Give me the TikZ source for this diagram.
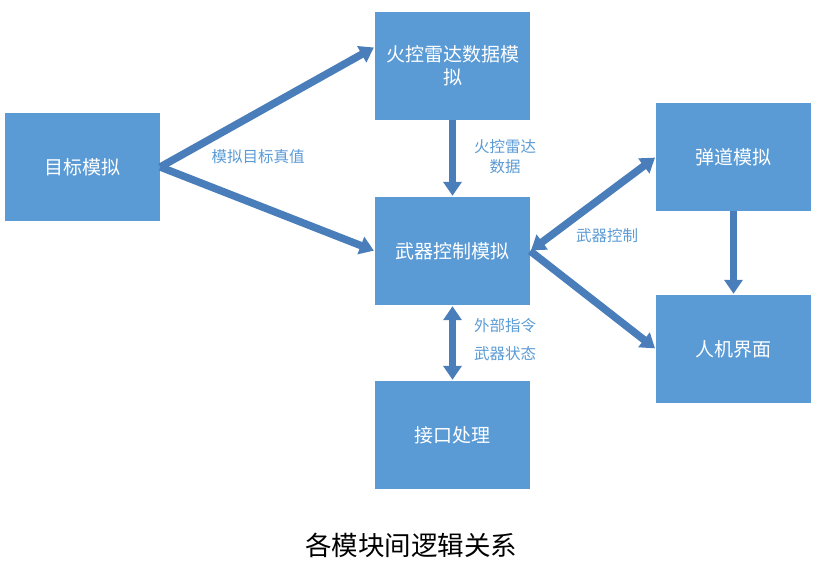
\documentclass[tikz,border=0pt]{standalone}
\usepackage{fontspec}
\newfontfamily\cjk{Noto Sans CJK SC}
\usetikzlibrary{arrows.meta}

\definecolor{boxblue}{RGB}{91,155,213}
\definecolor{arrowblue}{RGB}{74,126,187}

\begin{document}
\begin{tikzpicture}[
  x=1pt, y=-1pt,
  module/.style={
    fill=boxblue, text=white,
    minimum width=155pt, minimum height=108pt,
    inner sep=2pt, align=center,
    font=\cjk\fontsize{19}{23}\selectfont,
  },
  link/.style={
    draw=arrowblue, line width=7.5pt,
    -{Triangle[length=14pt,width=18pt]},
    shorten >=1pt,
  },
  both/.style={
    link, {Triangle[length=14pt,width=18pt]}-{Triangle[length=14pt,width=18pt]},
    shorten <=1pt,
  },
  note/.style={
    text=boxblue, align=center,
    font=\cjk\fontsize{15.5}{20}\selectfont,
  }]
  \useasboundingbox (0,0) rectangle (823,568);
  % modules
  \node[module] (target)  at (82.5,167) {目标模拟};
  \node[module] (radar)   at (452.5,66) {火控雷达数据模\\拟};
  \node[module] (weapon)  at (452.5,251) {武器控制模拟};
  \node[module] (port)    at (452.5,435) {接口处理};
  \node[module] (ballist) at (733.5,157) {弹道模拟};
  \node[module] (hmi)     at (733.5,349) {人机界面};
  % links
  \draw[link] (target.east) -- ([yshift=19pt]radar.west);
  \draw[link] (target.east) -- (weapon.west);
  \draw[link] (radar.south) -- (weapon.north);
  \draw[both] (weapon.east) -- (ballist.west);
  \draw[link] (weapon.east) -- (hmi.west);
  \draw[both] (weapon.south) -- (port.north);
  \draw[link] (ballist.south) -- (hmi.north);
  % labels
  \node[note] (truth) at (258,157) {模拟目标真值};
  \node[note] (rdata) at (505,157) {火控雷达\\数据};
  \node[note] (wctrl) at (607,236) {武器控制};
  \node[note] (cmd)   at (505,326) {外部指令};
  \node[note] (state) at (505,354) {武器状态};
  \node[font=\cjk\fontsize{26.5}{30}\selectfont] (title) at (411,545) {各模块间逻辑关系};
\end{tikzpicture}
\end{document}
